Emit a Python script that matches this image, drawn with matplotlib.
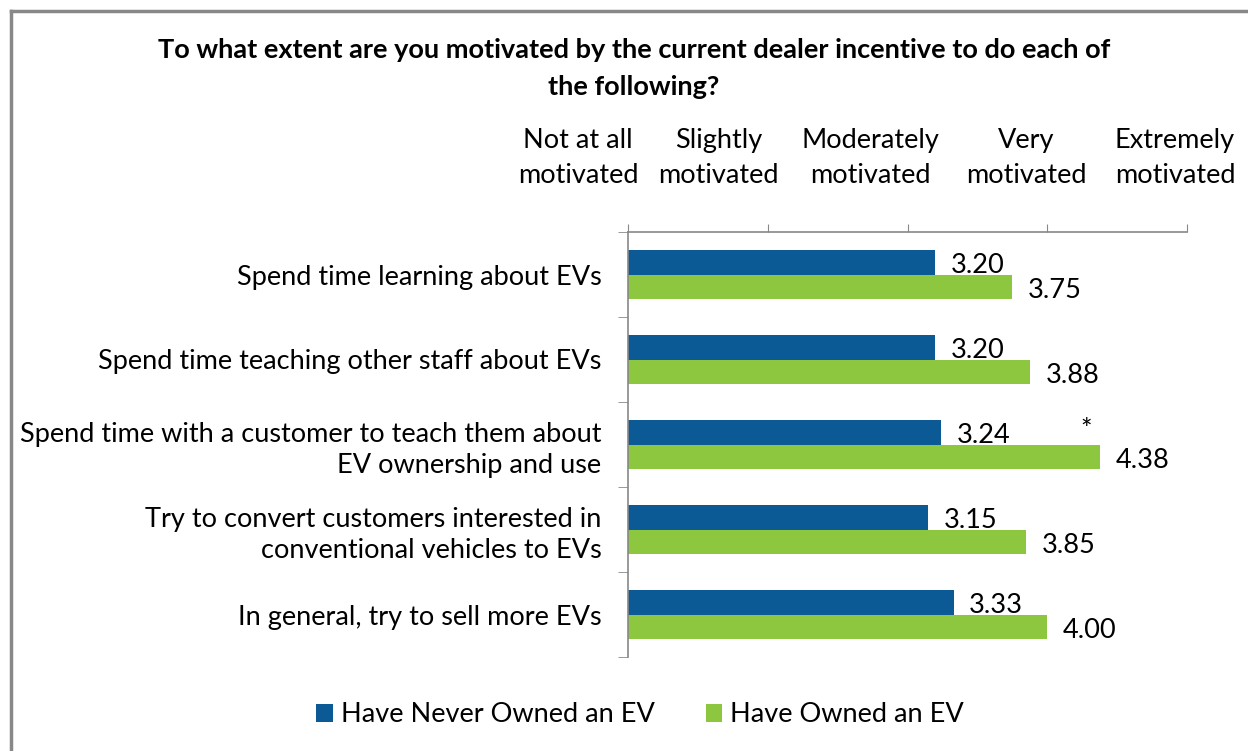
import matplotlib.pyplot as plt
import matplotlib.transforms as mtransforms
import numpy as np

# Chart data
categories = ['Spend time learning about EVs',
              'Spend time teaching other staff about EVs',
              'Spend time with a customer to teach them about\nEV ownership and use',
              'Try to convert customers interested in\nconventional vehicles to EVs',
              'In general, try to sell more EVs']
never_owned = [3.20, 3.20, 3.24, 3.15, 3.33]
owned = [3.75, 3.88, 4.38, 3.85, 4.00]
scale_labels = ['Not at all\nmotivated', 'Slightly\nmotivated', 'Moderately\nmotivated',
                'Very\nmotivated', 'Extremely\nmotivated']
scale_ticks = [1, 2, 3, 4, 5]
significant = [False, False, True, False, False]   # asterisk markers

blue = '#0B5A96'
green = '#8DC63F'
spine_gray = '#888888'
fs = 19.5

plt.rcParams['font.family'] = ['Lato', 'DejaVu Sans']

fig = plt.figure(figsize=(12.48, 7.51), dpi=100)
ax = fig.add_axes([628 / 1248, 1 - 657 / 751, 559 / 1248, 425 / 751])

# Outer chart border (left and top only visible)
fig.add_artist(plt.Line2D([11 / 1248, 11 / 1248], [0, 1 - 11 / 751], color=spine_gray, lw=2.5,
                          transform=fig.transFigure))
fig.add_artist(plt.Line2D([11 / 1248, 1], [1 - 11 / 751, 1 - 11 / 751], color=spine_gray, lw=2.5,
                          transform=fig.transFigure))

y = np.arange(len(categories))
h = 0.29
ax.barh(y - h / 2, [v - 1 for v in never_owned], left=1, height=h, color=blue,
        label='Have Never Owned an EV')
ax.barh(y + h / 2, [v - 1 for v in owned], left=1, height=h, color=green,
        label='Have Owned an EV')

# Value labels
for i in range(len(categories)):
    ax.text(never_owned[i] + 0.11, y[i] - h / 2 + 0.04, f'{never_owned[i]:.2f}',
            va='center', ha='left', fontsize=fs)
    ax.text(owned[i] + 0.11, y[i] + h / 2 + 0.04, f'{owned[i]:.2f}',
            va='center', ha='left', fontsize=fs)
    if significant[i]:
        ax.text(owned[i] - 0.1, y[i] - h / 2 - 0.02, '*', va='center', ha='center', fontsize=fs)

ax.set_xlim(1, 5)
ax.set_ylim(len(categories) - 0.5, -0.5)

# Axis on top
ax.xaxis.tick_top()
ax.set_xticks(scale_ticks)
ax.set_xticklabels(scale_labels, fontsize=fs, linespacing=1.5)
ax.tick_params(axis='x', length=6, color=spine_gray, pad=26)
# labels are squeezed left so the last one fits inside the chart
shifts = [-50, -49, -37, -21, -12]
for lbl, dx in zip(ax.get_xticklabels(), shifts):
    lbl.set_transform(lbl.get_transform() + mtransforms.ScaledTranslation(dx / 100, 0, fig.dpi_scale_trans))

# Category labels with divider ticks between groups
ax.set_yticks(y)
ax.set_yticklabels(categories, fontsize=fs, linespacing=1.3)
ax.tick_params(axis='y', length=0, pad=19)
ax.set_yticks(np.arange(-0.5, len(categories), 1), minor=True)
ax.tick_params(axis='y', which='minor', length=7, color=spine_gray)

for side in ['right', 'bottom']:
    ax.spines[side].set_visible(False)
for side in ['left', 'top']:
    ax.spines[side].set_color(spine_gray)
    ax.spines[side].set_linewidth(1.2)

fig.text(0.508, 1 - 50 / 751, 'To what extent are you motivated by the current dealer incentive to do each of',
         ha='center', va='center', fontsize=19.5, fontweight='bold')
fig.text(0.508, 1 - 87 / 751, 'the following?', ha='center', va='center', fontsize=19.5, fontweight='bold')

fig.legend(loc='center', bbox_to_anchor=(0.513, 1 - 715 / 751), ncol=2, frameon=False, fontsize=fs,
           handlelength=0.6, handleheight=0.6, handletextpad=0.3, columnspacing=1.9)

fig.savefig('out.png', dpi=100)
